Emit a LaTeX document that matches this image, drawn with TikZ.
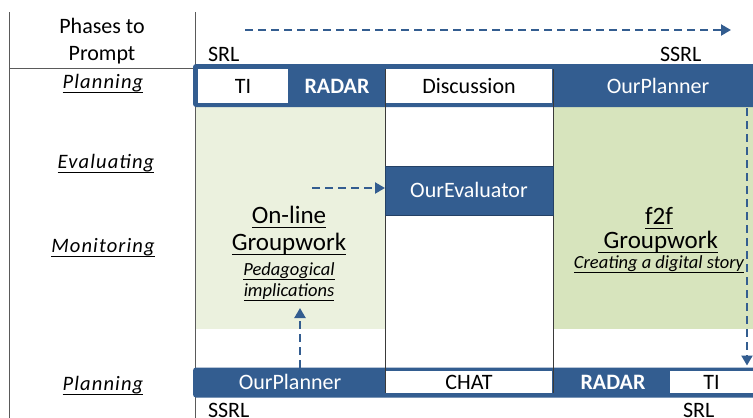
\documentclass[tikz,border=0pt]{standalone}
\usepackage{fontspec}
\setmainfont{Carlito}
\newfontfamily\spacedit{Carlito}[LetterSpace=5.5]
\usetikzlibrary{arrows.meta}

% underline at a fixed depth below the baseline
\newsavebox{\ulbox}
\newcommand{\ulline}[1]{\sbox{\ulbox}{#1}\rlap{\rule[-5pt]{\wd\ulbox}{1.1pt}}\usebox{\ulbox}}

\definecolor{barblue}{HTML}{335D90}
\definecolor{lightgreen}{HTML}{EBF1DE}
\definecolor{darkgreen}{HTML}{D7E4BD}
\definecolor{gridgray}{HTML}{5A5A5A}
\definecolor{colline}{HTML}{3A3A3A}

\begin{document}
\begin{tikzpicture}[x=1pt,y=-1pt,
  every node/.style={inner sep=0pt, outer sep=0pt},
  bigfont/.style={font=\fontsize{22}{26}\selectfont},
  rowlbl/.style={anchor=base, font=\spacedit\fontsize{20.5}{24}\selectfont\itshape},
  plain/.style={anchor=base, font=\fontsize{22}{26}\selectfont},
  barnode/.style={fill=barblue, rounded corners=3pt},
  wcell/.style={fill=white, bigfont, text height=14pt, text depth=0pt},
  bcell/.style={text=white, bigfont, text height=14pt, text depth=0pt},
  grouptitle/.style={anchor=base, font=\fontsize{25}{29}\selectfont},
  groupnote/.style={anchor=base, font=\fontsize{18.5}{22}\selectfont\itshape},
  flow/.style={draw=barblue, line width=2.2pt, dash pattern=on 8pt off 5pt,
    -{Triangle[length=10pt,width=11pt]}},
  grid/.style={draw=gridgray, line width=1pt},
  colrule/.style={draw=colline, line width=1pt}
]
\useasboundingbox (0,0) rectangle (753,418);
\clip (0,0) rectangle (753,418);
\fill[white] (0,0) rectangle (753,418);

% shaded group areas
\fill[lightgreen] (195,107) rectangle (385,329);
\fill[darkgreen] (553,107) rectangle (753,329);

% left table rules
\draw[grid] (9,12) -- (9,418);
\draw[grid] (195,12) -- (195,418);
\draw[grid] (9,68) -- (195,68);

% phase header and row labels
\node[plain] (hdr1) at (102,33) {Phases to};
\node[plain] (hdr2) at (102,60) {Prompt};
\node[rowlbl] (rplan1) at (103,88) {\ulline{Planning}};
\node[rowlbl] (reval) at (106,168) {\ulline{Evaluating}};
\node[rowlbl] (rmon) at (103,252) {\ulline{Monitoring}};
\node[rowlbl] (rplan2) at (103,390) {\ulline{Planning}};

% top tool bar
\node[barnode, minimum width=577pt, minimum height=43pt] (topbar) at (481.5,85.5) {};
\node[wcell, minimum width=90pt, minimum height=34pt] (ti1) at (243,86) {TI};
\node[bcell, font=\fontsize{22}{26}\selectfont\bfseries] (radar1) at (337,86) {RADAR};
\node[wcell, minimum width=166pt, minimum height=34pt] (disc) at (469,86) {Discussion};
\node[bcell] (plan1) at (658,86) {OurPlanner};

% bottom tool bar
\node[barnode, minimum width=577pt, minimum height=30pt] (botbar) at (481.5,382.5) {};
\node[bcell, minimum width=150pt, minimum height=30pt] (plan2) at (290,382.5) {OurPlanner};
\node[wcell, minimum width=166pt, minimum height=22pt] (chat) at (469,382) {CHAT};
\node[bcell, font=\fontsize{22}{26}\selectfont\bfseries] (radar2) at (613,382.5) {RADAR};
\node[wcell, minimum width=83pt, minimum height=22pt] (ti2) at (711.5,382) {TI};

% middle column rules
\draw[colrule] (385,69) -- (385,393);
\draw[colrule] (553,69) -- (553,393);

% evaluator tool
\node[bcell, fill=barblue, draw=barblue!70!black, line width=0.8pt,
  minimum width=168pt, minimum height=49pt] (eval) at (469,190.5) {OurEvaluator};

% SRL / SSRL markers
\node[plain, anchor=base west] (srl1) at (208,61) {SRL};
\node[plain, anchor=base west] (ssrl1) at (660,61) {SSRL};
\node[plain, anchor=base west] (ssrl2) at (208,417) {SSRL};
\node[plain, anchor=base west] (srl2) at (683,417) {SRL};

% on-line groupwork
\node[grouptitle] (online) at (289,223) {\ulline{On-line}};
\node[grouptitle] (ogw) at (289,250) {\ulline{Groupwork}};
\node[groupnote] (ped) at (289,275) {\ulline{Pedagogical}};
\node[groupnote] (impl) at (289,296) {\ulline{implications}};

% face-to-face groupwork
\node[grouptitle] (ftf) at (659,224) {\ulline{f2f}};
\node[grouptitle] (fgw) at (658,248) {\ulline{\ Groupwork}};
\node[groupnote] (story) at (659,268) {\ulline{Creating a digital story}};

% flow arrows
\coordinate (topstart) at (245,30);
\coordinate (topend) at (731,30);
\draw[flow] (topstart) -- (topend);

\coordinate (midstart) at (312,188);
\draw[flow] (midstart) -- (midstart -| eval.west);

\coordinate (upend) at (300,308);
\draw[flow] (upend |- plan2.north) -- (upend);

\coordinate (downstart) at (747,108);
\draw[flow, shorten >=2pt] (downstart) -- (downstart |- botbar.north);
\end{tikzpicture}
\end{document}
